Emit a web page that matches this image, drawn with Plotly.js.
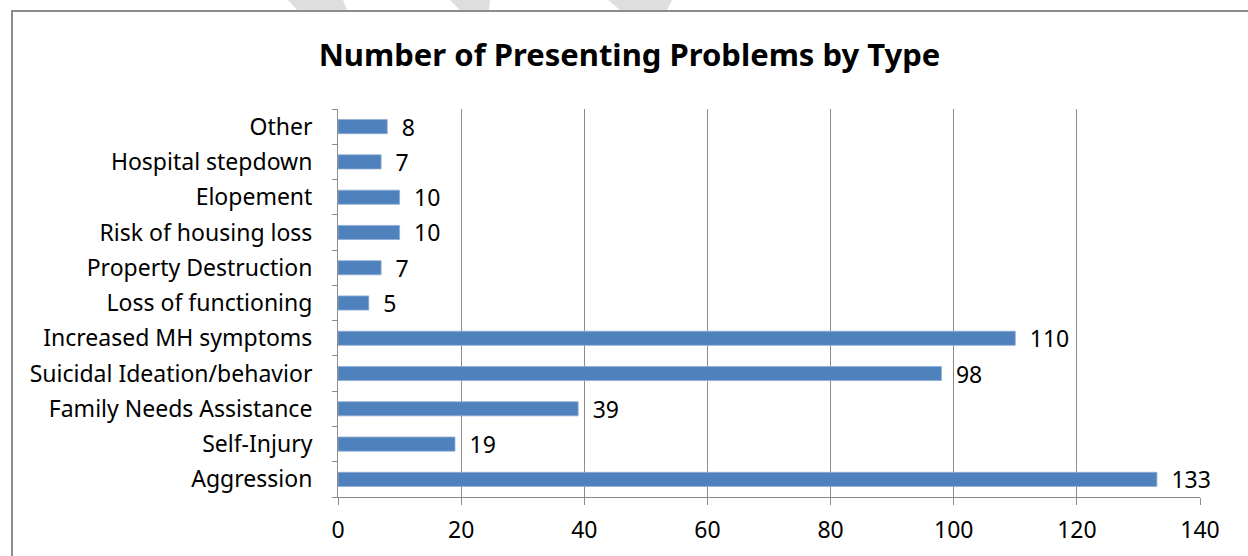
<!DOCTYPE html>
<html>
<head>
<meta charset="utf-8">
<script src="https://cdn.plot.ly/plotly-3.0.1.min.js"></script>
<style>
  html, body { margin: 0; padding: 0; background: #fff; }
  #wrap { position: relative; width: 1248px; height: 556px; overflow: hidden; }
  #chart { position: absolute; left: 0; top: 0; width: 1248px; height: 556px; }
  #frame { position: absolute; left: 11px; top: 10px; width: 1300px; height: 600px;
           border-left: 2px solid #8c8c8c; border-top: 2px solid #8c8c8c; pointer-events: none; }
  #wm { position: absolute; left: 0; top: 0; pointer-events: none; }
</style>
</head>
<body>
<div id="wrap">
  <svg id="wm" width="1248" height="10" viewBox="0 0 1248 10">
    <polygon points="288,0 343,0 347,10 297,10" fill="#dedede"/>
    <polygon points="450,0 490,0 489,10 460,10" fill="#dedede"/>
    <polygon points="608,0 672,0 667,10 620,10" fill="#dedede"/>
  </svg>
  <div id="chart"></div>
  <div id="frame"></div>
</div>
<script>
const categories = [
  "Aggression",
  "Self-Injury",
  "Family Needs Assistance",
  "Suicidal Ideation/behavior",
  "Increased MH symptoms",
  "Loss of functioning",
  "Property Destruction",
  "Risk of housing loss",
  "Elopement",
  "Hospital stepdown",
  "Other"
];
const counts = [133, 19, 39, 98, 110, 5, 7, 10, 10, 7, 8];
const xTicks = [0, 20, 40, 60, 80, 100, 120, 140];

const FONT = "Noto Sans, Open Sans, sans-serif";

const trace = {
  type: "bar",
  orientation: "h",
  y: categories,
  x: counts,
  marker: { color: "#4F81BD", line: { color: "#8EACD6", width: 0.8 } },
  texttemplate: "\u2002%{x}",
  textposition: "outside",
  constraintext: "none",
  cliponaxis: false,
  textfont: { family: FONT, size: 23, color: "#000" },
  hoverinfo: "skip"
};

const layout = {
  width: 1248,
  height: 556,
  margin: { l: 338, r: 48, t: 109, b: 59 },
  paper_bgcolor: "rgba(0,0,0,0)",
  plot_bgcolor: "rgba(0,0,0,0)",
  bargap: 0.6,
  showlegend: false,
  font: { family: FONT, size: 23, color: "#000" },
  title: {
    text: "<b>Number of Presenting Problems by Type</b>",
    font: { family: FONT, size: 31, color: "#000" },
    xref: "container", yref: "container",
    x: 0.5044, y: 0.901, xanchor: "center", yanchor: "middle"
  },
  xaxis: {
    range: [0, 140],
    tickvals: xTicks,
    ticktext: xTicks.map(String),
    showgrid: true,
    gridcolor: "#8c8c8c",
    gridwidth: 1,
    zeroline: false,
    showline: true,
    linecolor: "#8c8c8c",
    linewidth: 1,
    ticks: "outside",
    ticklen: 7,
    tickcolor: "#8c8c8c",
    ticklabelstandoff: 5,
    tickfont: { family: FONT, size: 23, color: "#000" },
    fixedrange: true
  },
  yaxis: {
    type: "category",
    categoryorder: "array",
    categoryarray: categories,
    showgrid: false,
    zeroline: false,
    showline: true,
    linecolor: "#8c8c8c",
    linewidth: 1,
    ticks: "outside",
    tickson: "boundaries",
    ticklen: 5,
    tickcolor: "#8c8c8c",
    ticklabelstandoff: 20,
    tickfont: { family: FONT, size: 23, color: "#000" },
    fixedrange: true
  }
};

Plotly.newPlot("chart", [trace], layout, { displayModeBar: false, staticPlot: true });
</script>
</body>
</html>
